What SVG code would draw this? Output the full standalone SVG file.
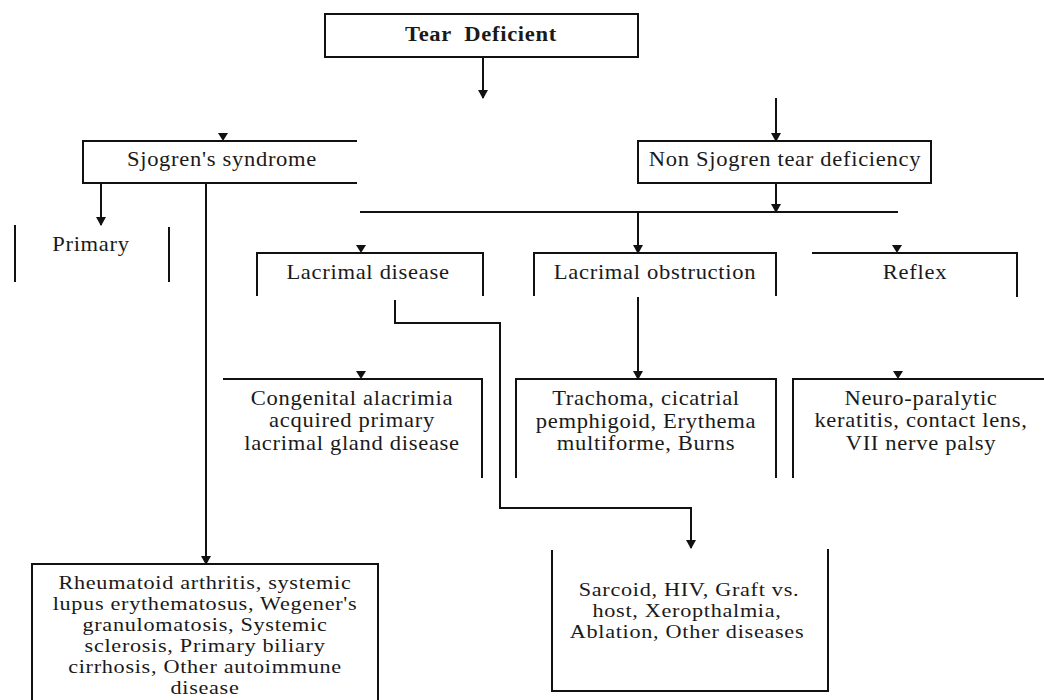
<svg xmlns="http://www.w3.org/2000/svg" width="1044" height="700" viewBox="0 0 1044 700">
<defs>
<marker id="ah" markerUnits="userSpaceOnUse" markerWidth="9" markerHeight="10" refX="8" refY="5" orient="auto" viewBox="0 0 9 10">
<path d="M0,0 L9,5 L0,10 Z" fill="#111"/>
</marker>
<style>
.ln{fill:none;stroke:#111;stroke-width:2}
.t{font-family:"Liberation Serif","Times New Roman",serif;font-size:20px;fill:#1a1a1a;text-anchor:middle;letter-spacing:0.6px;transform-box:fill-box;transform-origin:center;transform:scaleX(1.13)}
.s{font-size:19px;transform:scaleX(1.17)}
.b{font-weight:bold}
.hd{fill:#111}
</style>
</defs>
<rect width="1044" height="700" fill="#fff"/>
<g id="tear"><rect class="ln" x="325" y="14" width="313" height="43"/><text class="t b" x="481" y="41" xml:space="preserve">Tear  Deficient</text></g>
<g id="sjogren"><path class="ln" d="M357,141 H83 V183 H357"/><text class="t" x="222" y="166">Sjogren's syndrome</text></g>
<g id="nonsjogren"><rect class="ln" x="638" y="141" width="293" height="42"/><text class="t" x="785" y="166">Non Sjogren tear deficiency</text></g>
<g id="primary"><path class="ln" d="M15,225 V282 M169,227 V282"/><text class="t" x="91" y="251">Primary</text></g>
<g id="lacdisease"><path class="ln" d="M257,296 V253 H483 V296"/><text class="t" x="368" y="279">Lacrimal disease</text></g>
<g id="lacobstruction"><path class="ln" d="M534,296 V253 H776 V296"/><text class="t" x="655" y="279">Lacrimal obstruction</text></g>
<g id="reflex"><path class="ln" d="M812,253 H1017 V297"/><text class="t" x="915" y="279">Reflex</text></g>
<g id="congenital"><path class="ln" d="M223,379 H482 V478"/><text class="t" x="352" y="405">Congenital alacrimia</text><text class="t" x="352" y="427">acquired primary</text><text class="t" x="352" y="450">lacrimal gland disease</text></g>
<g id="trachoma"><path class="ln" d="M516,478 V379 H776 V478"/><text class="t" x="646" y="405">Trachoma, cicatrial</text><text class="t" x="646" y="428">pemphigoid, Erythema</text><text class="t" x="646" y="450">multiforme, Burns</text></g>
<g id="neuro"><path class="ln" d="M793,478 V379 H1044"/><text class="t" x="921" y="405">Neuro-paralytic</text><text class="t" x="921" y="427">keratitis, contact lens,</text><text class="t" x="921" y="450">VII nerve palsy</text></g>
<g id="sarcoid"><path class="ln" d="M552,550 V691 H828 V549"/><text class="t s" x="689" y="596">Sarcoid, HIV, Graft vs.</text><text class="t s" x="687" y="617">host, Xeropthalmia,</text><text class="t s" x="687" y="638">Ablation, Other diseases</text></g>
<g id="rheumatoid"><path class="ln" d="M32,700 V564 H378 V700"/><text class="t s" x="205" y="589">Rheumatoid arthritis, systemic</text><text class="t s" x="205" y="610">lupus erythematosus, Wegener's</text><text class="t s" x="205" y="631">granulomatosis, Systemic</text><text class="t s" x="205" y="652">sclerosis, Primary biliary</text><text class="t s" x="205" y="673">cirrhosis, Other autoimmune</text><text class="t s" x="205" y="694">disease</text></g>
<g id="connectors">
<path class="ln" d="M483,57 V98" marker-end="url(#ah)"/>
<path class="ln" d="M776,98 V141" marker-end="url(#ah)"/>
<path class="ln" d="M101,183 V225" marker-end="url(#ah)"/>
<path class="ln" d="M206,183 V564" marker-end="url(#ah)"/>
<path class="ln" d="M776,183 V212" marker-end="url(#ah)"/>
<path class="ln" d="M360,212 H898"/>
<path class="ln" d="M638,212 V253" marker-end="url(#ah)"/>
<path class="ln" d="M638,297 V379" marker-end="url(#ah)"/>
<path class="ln" d="M395,300 V323 H500 V508 H691 V548" marker-end="url(#ah)"/>
<polygon class="hd" points="218,133 228,133 223,141"/>
<polygon class="hd" points="356,245 366,245 361,253"/>
<polygon class="hd" points="892,245 902,245 897,253"/>
<polygon class="hd" points="356,371 366,371 361,379"/>
<polygon class="hd" points="893,371 903,371 898,379"/>
</g>
</svg>
